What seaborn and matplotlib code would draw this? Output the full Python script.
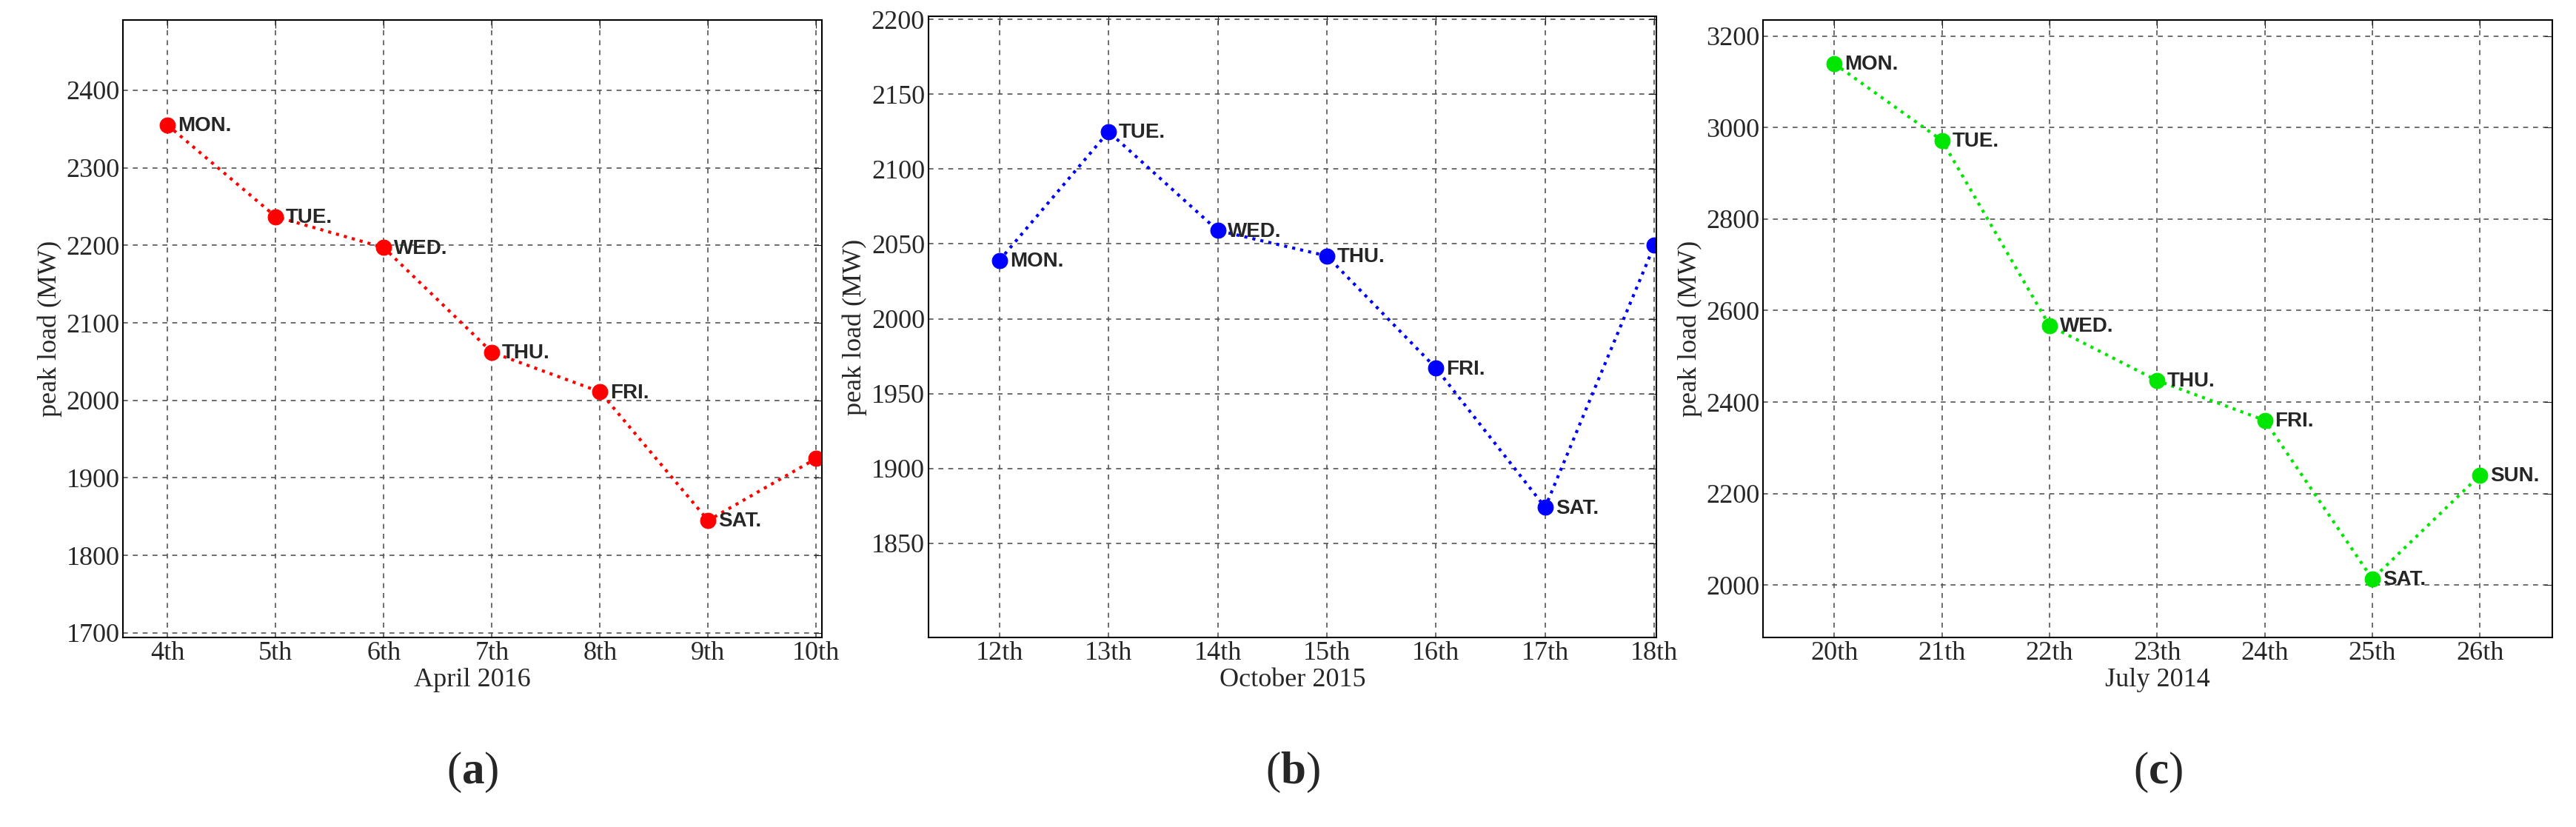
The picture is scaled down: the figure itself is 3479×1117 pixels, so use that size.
import matplotlib
matplotlib.use("Agg")
import matplotlib.pyplot as plt
import seaborn as sns
import pandas as pd

days = ["MON.", "TUE.", "WED.", "THU.", "FRI.", "SAT.", "SUN."]
a_dates = [4, 5, 6, 7, 8, 9, 10]
a_vals = [2355, 2237, 2197, 2062, 2011, 1845, 1925]
b_dates = [12, 13, 14, 15, 16, 17, 18]
b_vals = [2039, 2125, 2059, 2042, 1967, 1874, 2049]
c_dates = [20, 21, 22, 23, 24, 25, 26]
c_vals = [3140, 2972, 2567, 2447, 2360, 2013, 2240]

sns.set_style("white")
plt.rcParams['font.family'] = ['Liberation Serif', 'DejaVu Serif']
plt.rcParams['mathtext.fontset'] = 'custom'
plt.rcParams['mathtext.bf'] = 'Liberation Serif:bold'
plt.rcParams['mathtext.rm'] = 'Liberation Serif'

fig = plt.figure(figsize=(34.8, 11.17), dpi=100)
W, H = 1568, 503.3
specs = [
    dict(d=a_dates, v=a_vals, c="#ff0000", xl="April 2016", box=(75, 12, 500, 388),
         xlim=(3.59, 10.05), ylim=(1694, 2491), yt=range(1700, 2401, 100), tag="a"),
    dict(d=b_dates, v=b_vals, c="#0000ff", xl="October 2015", box=(565, 10, 1008, 388),
         xlim=(11.35, 18.02), ylim=(1787, 2202), yt=range(1850, 2201, 50), tag="b"),
    dict(d=c_dates, v=c_vals, c="#00e600", xl="July 2014", box=(1073, 12, 1553, 388),
         xlim=(19.34, 26.67), ylim=(1885, 3236), yt=range(2000, 3201, 200), tag="c"),
]
for s in specs:
    x0, y0, x1, y1 = s["box"]
    ax = fig.add_axes([x0 / W, 1 - y1 / H, (x1 - x0) / W, (y1 - y0) / H])
    df = pd.DataFrame({"date": s["d"], "load": s["v"]})
    sns.lineplot(data=df, x="date", y="load", ax=ax, color=s["c"], linestyle=":",
                 linewidth=3, marker="o", markersize=15, markeredgecolor=s["c"])
    for dx, v, lab in zip(s["d"], s["v"], days):
        if dx < s["xlim"][1] - 0.1:
            ax.annotate(lab, (dx, v), xytext=(10, -6), textcoords="offset points",
                        fontsize=20, fontweight="bold", family="Liberation Sans")
    ax.set_xlim(*s["xlim"]); ax.set_ylim(*s["ylim"])
    ax.set_xticks(s["d"]); ax.set_xticklabels([f"{d}th" for d in s["d"]])
    ax.set_yticks(list(s["yt"]))
    ax.grid(True, color="#555555", linestyle=(0, (4, 4)), linewidth=1.2)
    ax.tick_params(direction="in", labelsize=26, length=8, top=True, right=True)
    for sp in ax.spines.values():
        sp.set_color("black"); sp.set_linewidth(1.5)
    ax.set_xlabel(s["xl"], fontsize=26, labelpad=2)
    ax.set_ylabel("peak load (MW)", fontsize=26)
    fig.text((x0 + x1) / 2 / W, 1 - 470 / H, r"($\mathbf{" + s["tag"] + "}$)",
             fontsize=44, ha="center", va="center")
fig.savefig("out.png", dpi=100)
